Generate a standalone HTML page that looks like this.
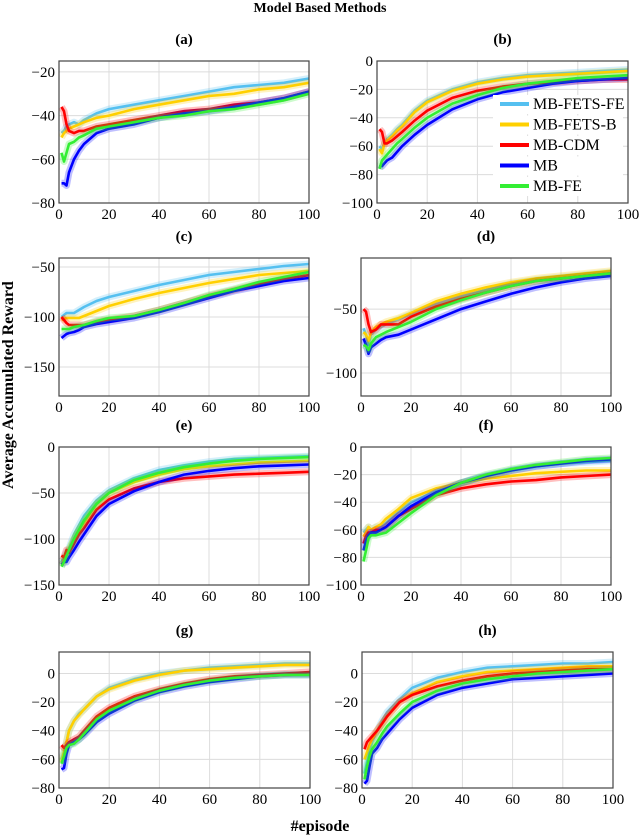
<!DOCTYPE html>
<html><head><meta charset="utf-8"><style>
html,body{margin:0;padding:0;background:#fff;}
svg{display:block;font-family:"Liberation Serif",serif;}
</style></head><body>
<svg id="chart" width="640" height="837" viewBox="0 0 640 837">
<text x="320" y="12" text-anchor="middle" font-weight="bold" font-size="14">Model Based Methods</text>
<text transform="translate(13,385) rotate(-90)" text-anchor="middle" font-weight="bold" font-size="16">Average Accumulated Reward</text>
<text x="320" y="831" text-anchor="middle" font-weight="bold" font-size="16">#episode</text>
</svg>
<script>
const episodes=[1,2,3,4,6,8,10,15,20,30,40,50,60,70,80,90,100];
const seriesNames=["MB-FETS-FE","MB-FETS-B","MB-CDM","MB","MB-FE"];
const colors=["#55c0f0","#ffd000","#ff0000","#0000ff","#33ee33"];
const xTicks=[0,20,40,60,80,100];
const aFETSFE=[-48,-47,-45,-44,-43,-44,-42,-39,-37,-35,-33,-31,-29,-27,-26,-25,-23];
const aFETSB=[-50,-48,-47,-46,-45,-44,-43,-41,-40,-37,-35,-33,-31,-30,-28,-27,-25];
const aCDM=[-36,-38,-44,-47,-48,-47,-47,-45,-44,-42,-40,-38,-37,-35,-34,-32,-29];
const aMB=[-71,-71,-72,-66,-60,-56,-53,-48,-46,-44,-41,-39,-38,-36,-34,-32,-29];
const aFE=[-57,-61,-57,-53,-52,-50,-49,-46,-45,-43,-41,-40,-38,-37,-35,-33,-30];
const bFETSFE=[-60,-62,-58,-55,-52,-48,-45,-35,-28,-20,-15,-12,-10,-9,-8,-7,-6];
const bFETSB=[-62,-65,-58,-56,-53,-49,-46,-36,-29,-21,-16,-13,-11,-10,-9,-8,-7];
const bCDM=[-48,-50,-58,-58,-56,-53,-50,-42,-35,-26,-21,-18,-16,-15,-14,-13,-13];
const bMB=[-73,-74,-72,-70,-68,-64,-60,-52,-45,-34,-27,-22,-19,-16,-14,-13,-12];
const bFE=[-76,-70,-68,-66,-62,-58,-55,-47,-40,-30,-24,-19,-16,-14,-12,-11,-10];
const cFETSFE=[-100,-98,-96,-96,-96,-93,-90,-84,-80,-74,-68,-63,-58,-55,-52,-49,-47];
const cFETSB=[-103,-102,-101,-101,-101,-101,-99,-94,-89,-82,-76,-71,-66,-62,-58,-56,-54];
const cCDM=[-100,-103,-106,-108,-108,-108,-108,-105,-103,-99,-93,-86,-79,-73,-67,-62,-58];
const cMB=[-121,-119,-117,-116,-115,-113,-110,-107,-105,-101,-95,-88,-81,-74,-69,-64,-61];
const cFE=[-112,-112,-112,-112,-110,-109,-108,-104,-101,-99,-93,-86,-78,-72,-65,-60,-55];
const dFETSFE=[-65,-70,-78,-70,-66,-64,-62,-58,-54,-46,-40,-35,-30,-27,-25,-23,-21];
const dFETSB=[-68,-70,-75,-68,-64,-62,-60,-57,-53,-44,-38,-33,-29,-26,-24,-22,-20];
const dCDM=[-50,-52,-62,-68,-66,-62,-62,-62,-56,-48,-42,-37,-32,-28,-26,-24,-22];
const dMB=[-73,-78,-85,-80,-77,-74,-72,-70,-66,-58,-50,-44,-38,-33,-29,-26,-24];
const dFE=[-78,-79,-82,-77,-72,-70,-68,-64,-60,-50,-43,-37,-32,-28,-26,-24,-22];
const eFETSFE=[-125,-120,-115,-110,-95,-85,-75,-58,-47,-34,-25,-20,-16,-13,-12,-11,-10];
const eFETSB=[-128,-122,-118,-112,-100,-90,-82,-62,-50,-38,-30,-24,-21,-19,-17,-16,-15];
const eCDM=[-118,-120,-112,-115,-105,-95,-88,-68,-57,-45,-38,-34,-32,-30,-29,-28,-27];
const eMB=[-128,-125,-125,-120,-112,-103,-95,-75,-62,-48,-38,-30,-26,-23,-21,-20,-19];
const eFE=[-130,-125,-118,-112,-100,-90,-80,-62,-50,-36,-28,-22,-18,-15,-13,-12,-11];
const fFETSFE=[-62,-60,-58,-60,-58,-58,-55,-47,-40,-32,-26,-21,-17,-14,-12,-11,-10];
const fFETSB=[-65,-62,-58,-60,-58,-56,-52,-45,-37,-30,-26,-23,-21,-19,-18,-17,-17];
const fCDM=[-70,-65,-62,-62,-60,-60,-58,-50,-45,-35,-30,-27,-25,-24,-22,-21,-20];
const fMB=[-75,-68,-64,-62,-62,-60,-58,-50,-43,-33,-26,-21,-17,-14,-12,-10,-9];
const fFE=[-83,-75,-66,-64,-64,-63,-62,-55,-48,-35,-26,-20,-16,-13,-11,-9,-8];
const gFETSFE=[-60,-55,-48,-40,-33,-28,-25,-16,-10,-4,0,2,4,5,6,7,7];
const gFETSB=[-62,-55,-48,-40,-33,-29,-25,-16,-11,-5,-1,2,3,4,5,6,6];
const gCDM=[-50,-52,-50,-48,-46,-44,-40,-30,-24,-16,-11,-7,-4,-2,-1,0,1];
const gMB=[-67,-66,-56,-50,-48,-46,-43,-34,-28,-19,-13,-9,-6,-4,-2,-1,-1];
const gFE=[-63,-58,-52,-50,-49,-46,-42,-32,-26,-18,-12,-8,-5,-3,-2,-1,-1];
const hFETSFE=[-70,-62,-55,-48,-40,-33,-27,-18,-10,-3,1,4,5,6,7,7,8];
const hFETSB=[-60,-55,-50,-46,-40,-35,-30,-20,-14,-6,-2,1,2,3,4,5,5];
const hCDM=[-53,-48,-46,-44,-40,-35,-30,-20,-15,-9,-5,-2,0,1,2,3,3];
const hMB=[-77,-75,-65,-56,-52,-46,-42,-32,-24,-15,-10,-7,-4,-3,-2,-1,0];
const hFE=[-74,-65,-58,-53,-48,-42,-37,-28,-20,-12,-7,-4,-2,0,1,2,3];
const yTicksA=[-80,-60,-40,-20];
const yTicksB=[-100,-80,-60,-40,-20,0];
const yTicksC=[-150,-100,-50];
const yTicksD=[-100,-50];
const yTicksE=[-150,-100,-50,0];
const yTicksF=[-100,-80,-60,-40,-20,0];
const yTicksG=[-80,-60,-40,-20,0];

const panels=[
 {id:"a",L:59,R:309,T:61,B:203,ymin:-80,ymax:-15,ticks:yTicksA,data:[aFETSFE,aFETSB,aCDM,aMB,aFE]},
 {id:"b",L:377,R:628,T:61,B:203,ymin:-100,ymax:0,ticks:yTicksB,data:[bFETSFE,bFETSB,bCDM,bMB,bFE],legend:true},
 {id:"c",L:59,R:309,T:258,B:396,ymin:-179,ymax:-41,ticks:yTicksC,data:[cFETSFE,cFETSB,cCDM,cMB,cFE]},
 {id:"d",L:361,R:611,T:258,B:396,ymin:-118,ymax:-10,ticks:yTicksD,data:[dFETSFE,dFETSB,dCDM,dMB,dFE]},
 {id:"e",L:59,R:309,T:447,B:585,ymin:-150,ymax:0,ticks:yTicksE,data:[eFETSFE,eFETSB,eCDM,eMB,eFE]},
 {id:"f",L:361,R:611,T:447,B:585,ymin:-100,ymax:0,ticks:yTicksF,data:[fFETSFE,fFETSB,fCDM,fMB,fFE]},
 {id:"g",L:59,R:310,T:652,B:788,ymin:-80,ymax:15,ticks:yTicksG,data:[gFETSFE,gFETSB,gCDM,gMB,gFE]},
 {id:"h",L:362,R:613,T:652,B:788,ymin:-80,ymax:15,ticks:yTicksG,data:[hFETSFE,hFETSB,hCDM,hMB,hFE]}
];
const NS="http://www.w3.org/2000/svg";
const svg=document.getElementById("chart");
function mk(tag,attrs,parent){const e=document.createElementNS(NS,tag);for(const k in attrs)e.setAttribute(k,attrs[k]);(parent||svg).appendChild(e);return e;}
const fmt=v=>v<0?"\u2212"+Math.abs(v):String(v);
panels.forEach(p=>{
 const g=mk("g",{});
 
 
 const xs=v=>p.L+(v-0)/100*(p.R-p.L);
 const ys=v=>p.B-(v-p.ymin)/(p.ymax-p.ymin)*(p.B-p.T);
 const t=mk("text",{x:(p.L+p.R)/2,y:p.T-17,"text-anchor":"middle","font-weight":"bold","font-size":"15"},g);
 t.textContent="("+p.id+")";
 
 
 xTicks.forEach(v=>{
  const l=mk("line",{x1:xs(v),x2:xs(v),y1:p.T,y2:p.B,stroke:"#dcdcdc","stroke-width":1},g);
  
  
  const tx=mk("text",{x:xs(v),y:p.B+16,"text-anchor":"middle","font-size":"15"},g);
  tx.textContent=v;
  
  
 });
 p.ticks.forEach(v=>{
  const l=mk("line",{x1:p.L,x2:p.R,y1:ys(v),y2:ys(v),stroke:"#dcdcdc","stroke-width":1},g);
  
  
  const ty=mk("text",{x:p.L-4,y:ys(v)+5,"text-anchor":"end","font-size":"15"},g);
  ty.textContent=fmt(v);
  
  
 });
 const clip=mk("clipPath",{id:"clip-"+p.id},g);
 mk("rect",{x:p.L,y:p.T,width:p.R-p.L,height:p.B-p.T},clip);
 const sg=mk("g",{"clip-path":"url(#clip-"+p.id+")"},g);
 p.data.forEach((arr,i)=>{
  const d=arr.map((v,j)=>(j?"L":"M")+xs(episodes[j]).toFixed(1)+","+ys(v).toFixed(1)).join(" ");
  const band=mk("path",{d:d,fill:"none",stroke:colors[i],"stroke-width":7,"stroke-opacity":0.25,"stroke-linejoin":"round"},sg);
  
  
  const line=mk("path",{d:d,fill:"none",stroke:colors[i],"stroke-width":2.6,"stroke-linejoin":"round"},sg);
  
  
 });
 const fr=mk("rect",{x:p.L,y:p.T,width:p.R-p.L,height:p.B-p.T,fill:"none",stroke:"#444","stroke-width":1.2},g);
 
 
 if(p.legend){
  seriesNames.forEach((n,i)=>{
   const yy=104+i*20.5;
   const le=mk("g",{},g);
   
   
   mk("rect",{x:493,y:yy-9,width:130,height:19,fill:"#fff"},le);
   mk("line",{x1:500,x2:529,y1:yy,y2:yy,stroke:colors[i],"stroke-width":4},le);
   const lt=mk("text",{x:533,y:yy+5,"font-size":"16"},le);
   lt.textContent=n;
  });
 }
});
</script>
</body></html>
